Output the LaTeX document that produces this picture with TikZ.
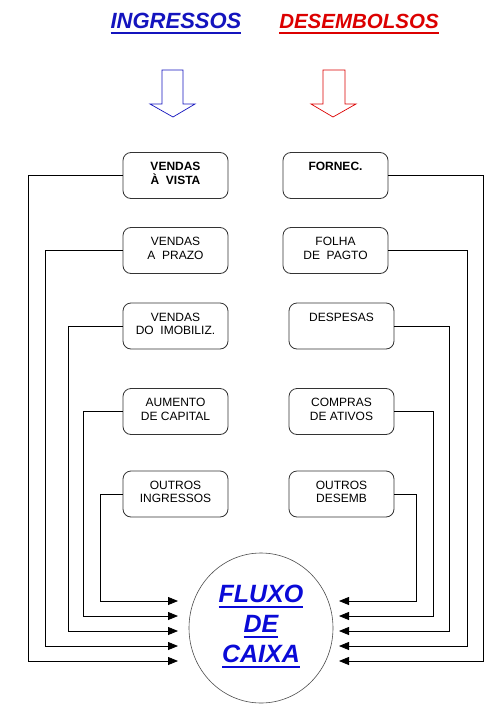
\documentclass[tikz,border=0pt]{standalone}
\usepackage{fontspec}
\setmainfont{Liberation Sans}
\usetikzlibrary{arrows.meta,shapes.geometric}
\definecolor{ingblue}{RGB}{20,20,190}
\definecolor{desred}{RGB}{220,0,0}
\definecolor{fxblue}{RGB}{10,10,215}
\newcommand{\myul}[3]{\setbox0\hbox{#1}\leavevmode\rlap{\rule[#2]{\wd0}{#3}}\box0}
\newcommand{\bx}[1]{\parbox[c][46pt][t]{105pt}{\centering\rule{0pt}{18pt}#1}}
\begin{document}
\begin{tikzpicture}[x=1pt,y=-1pt,
  box/.style={draw=black!80, line width=0.8pt, rounded corners=8pt,
    minimum width=105pt, minimum height=46pt, inner sep=0pt,
    font=\fontsize{12}{13.5}\selectfont},
  conn/.style={draw, line width=0.8pt, -{Triangle[length=10pt,width=8pt]}},
  fx/.style={anchor=base, inner sep=0pt, text=fxblue,
    font=\fontsize{25}{30}\selectfont\bfseries\itshape},
]
\useasboundingbox[fill=white] (0,0) rectangle (499,720);

% titles
\node[anchor=base, inner sep=0pt, text=ingblue,
  font=\fontsize{22}{26}\selectfont\bfseries\itshape] (ing) at (176,28.3)
  {\myul{INGRESSOS}{-6pt}{2.6pt}};
\node[anchor=base, inner sep=0pt, text=desred,
  font=\fontsize{20.5}{26}\selectfont\bfseries\itshape] (des) at (359,28.3)
  {\myul{DESEMBOLSOS}{-6pt}{2.6pt}};

% block arrows
\draw[ingblue, line width=0.7pt] (162,70) -- (183,70) -- (183,104) -- (195,104)
  -- (173,117) -- (150,104) -- (162,104) -- cycle;
\draw[desred, line width=0.7pt] (323,70) -- (345,70) -- (345,104) -- (356,104)
  -- (333,117) -- (311,104) -- (323,104) -- cycle;

% left boxes
\node[box] (v1) at (175.5,175.5) {\bx{\bfseries VENDAS\\À\ \ VISTA}};
\node[box] (v2) at (175.5,250.5) {\bx{VENDAS\\A\ \ PRAZO}};
\node[box] (v3) at (175.5,326) {\bx{VENDAS\\DO\ \ IMOBILIZ.}};
\node[box] (v4) at (175.5,411.5) {\bx{AUMENTO\\DE CAPITAL}};
\node[box] (v5) at (175.5,494) {\bx{OUTROS\\INGRESSOS}};

% right boxes
\node[box] (r1) at (335.5,175.5) {\bx{\bfseries FORNEC.}};
\node[box] (r2) at (335.5,250.5) {\bx{FOLHA\\DE\ \ PAGTO}};
\node[box] (r3) at (341.5,326) {\bx{DESPESAS}};
\node[box] (r4) at (341.5,411.5) {\bx{COMPRAS\\DE ATIVOS}};
\node[box] (r5) at (341.5,494) {\bx{OUTROS\\DESEMB}};

% cash flow circle
\node[draw=black!70, line width=0.6pt, ellipse, minimum width=144pt,
  minimum height=150pt] (fc) at (261,628) {};
\node[fx] (fx1) at (261,602) {\myul{FLUXO}{-6.3pt}{2.5pt}};
\node[fx] (fx2) at (261,632) {\myul{DE}{-6.3pt}{2.5pt}};
\node[fx] (fx3) at (261,662) {\myul{CAIXA}{-6.3pt}{2.5pt}};

% arrow end points
\coordinate (a1) at (178,661);
\coordinate (a2) at (178,646);
\coordinate (a3) at (178,631);
\coordinate (a4) at (178,616);
\coordinate (a5) at (178,601);
\coordinate (b1) at (339,661);
\coordinate (b2) at (339,646);
\coordinate (b3) at (339,631);
\coordinate (b4) at (339,616);
\coordinate (b5) at (339,601);

% connectors
\draw[conn] (v1.west) -| (28,661) -- (a1);
\draw[conn] (v2.west) -| (45,646) -- (a2);
\draw[conn] (v3.west) -| (68,631) -- (a3);
\draw[conn] (v4.west) -| (83,616) -- (a4);
\draw[conn] (v5.west) -| (100,601) -- (a5);
\draw[conn] (r1.east) -| (483,661) -- (b1);
\draw[conn] (r2.east) -| (467,646) -- (b2);
\draw[conn] (r3.east) -| (449,631) -- (b3);
\draw[conn] (r4.east) -| (433,616) -- (b4);
\draw[conn] (r5.east) -| (416,601) -- (b5);
\end{tikzpicture}
\end{document}
